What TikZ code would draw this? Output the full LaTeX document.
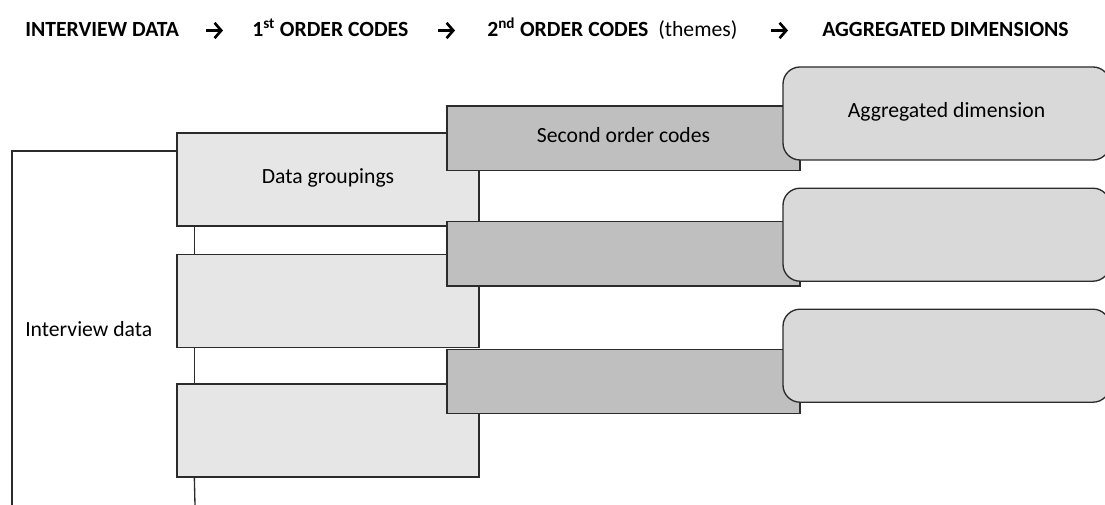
\documentclass[tikz,border=0pt]{standalone}
\usepackage{fontspec}
\setmainfont{Carlito}
\usetikzlibrary{positioning, arrows.meta}

\definecolor{groupfill}{HTML}{E6E6E6}
\definecolor{codefill}{HTML}{BFBFBF}
\definecolor{dimfill}{HTML}{D9D9D9}
\definecolor{edgecol}{HTML}{2B2B2B}

\begin{document}
\begin{tikzpicture}[
  x=0.75pt, y=-0.75pt,
  basefont/.style={font=\fontsize{16.25}{19.5}\selectfont},
  groupbox/.style={basefont, rectangle, draw=edgecol, line width=1pt, fill=groupfill,
    minimum width=302*0.75pt, minimum height=93*0.75pt, inner sep=0pt,
    text height=0.64em, text depth=0pt},
  codebox/.style={groupbox, fill=codefill, minimum width=353*0.75pt, minimum height=64.5*0.75pt},
  dimbox/.style={groupbox, fill=dimfill, rounded corners=12.75pt, minimum width=327*0.75pt},
  titlenode/.style={inner sep=0pt, anchor=base west, font=\fontsize{16.25}{19.5}\selectfont\bfseries},
  labelnode/.style={basefont, inner sep=0pt, anchor=base west},
  link/.style={draw=edgecol, line width=1pt},
  steparrow/.style={line width=2pt, -{Straight Barb[length=5pt, width=11.5pt]}}
]
  %------------------------------------------------------------
  %  CANVAS
  %------------------------------------------------------------
  \useasboundingbox (0,0) rectangle (1105,505);
  \clip (0,0) rectangle (1105,505);
  \def\gx{328}      % centre of the data groupings
  \def\cx{623.5}    % centre of the second order codes
  \def\dx{946.5}    % centre of the aggregated dimensions
  \def\ty{37}       % baseline of the title row

  %------------------------------------------------------------
  %  TITLE ROW
  %------------------------------------------------------------
  \node[titlenode] (TInt) at (25,\ty)  {INTERVIEW DATA};
  \node[titlenode] (TFst) at (252,\ty) {1\textsuperscript{st} ORDER CODES};
  \node[titlenode] (TSnd) at (487,\ty) {2\textsuperscript{nd} ORDER CODES\ \ \mdseries(themes)};
  \node[titlenode] (TAgg) at (822,\ty) {AGGREGATED DIMENSIONS};

  \foreach \n/\xa/\xb in {1/206/223, 2/438/455, 3/771/788} {
    \coordinate (A\n s) at (\xa,30.5);
    \coordinate (A\n e) at (\xb,30.5);
    \draw[steparrow] (A\n s) -- (A\n e);
  }

  %------------------------------------------------------------
  %  INTERVIEW DATA BRACKET
  %------------------------------------------------------------
  \node[labelnode] (IData) at (25,337) {Interview data};
  \coordinate (ITop) at (12,151);
  \coordinate (IBot) at (12,505);
  \coordinate (GBot) at (195,505);

  %------------------------------------------------------------
  %  FIRST ORDER CODES (data groupings)
  %------------------------------------------------------------
  \node[groupbox] (G1) at (\gx,179.5) {Data groupings};
  \node[groupbox] (G2) at (\gx,301)   {};
  \node[groupbox] (G3) at (\gx,430.5) {};

  \draw[link] (IBot) -- (ITop) -- (ITop -| G1.west);
  \foreach \a/\b in {G1/G2, G2/G3} {
    \draw[link] ([xshift=13.5pt]\a.south west) -- ([xshift=13.5pt]\b.north west);
  }
  \draw[link] ([xshift=13.5pt]G3.south west) -- (GBot);

  %------------------------------------------------------------
  %  SECOND ORDER CODES
  %------------------------------------------------------------
  \node[codebox] (C1) at (\cx,138.3) {Second order codes};
  \node[codebox] (C2) at (\cx,253.8) {};
  \node[codebox] (C3) at (\cx,381.5) {};

  %------------------------------------------------------------
  %  AGGREGATED DIMENSIONS
  %------------------------------------------------------------
  \node[dimbox] (D1) at (\dx,113.5) {Aggregated dimension};
  \node[dimbox] (D2) at (\dx,234.7) {};
  \node[dimbox] (D3) at (\dx,355.7) {};

\end{tikzpicture}
\end{document}
